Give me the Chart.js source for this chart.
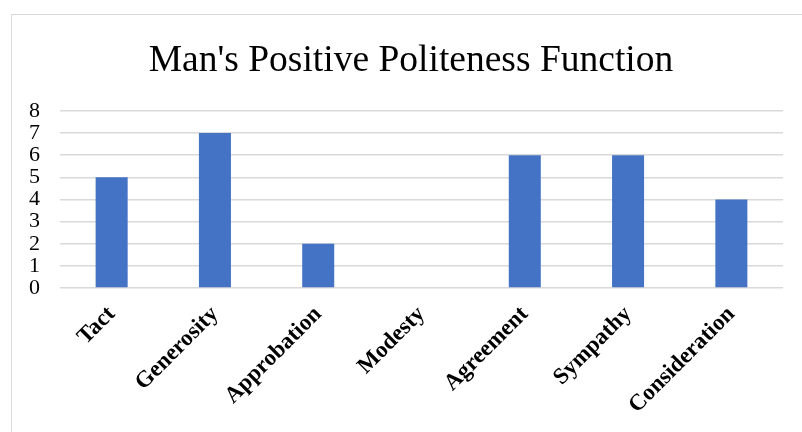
<!DOCTYPE html>
<html><head><meta charset="utf-8">
<script src="https://cdn.jsdelivr.net/npm/chart.js@4"></script>
<style>
html,body{margin:0;padding:0;background:#fff;overflow:hidden;}
#frame{position:absolute;left:11px;top:14px;width:820px;height:440px;border:1px solid #d9d9d9;box-sizing:border-box;}
#wrap{position:absolute;left:0;top:0;width:802px;height:432px;}
</style></head>
<body>
<div id="frame"></div>
<div id="wrap"><canvas id="c" width="802" height="432"></canvas></div>
<script>
const categories = ["Tact","Generosity","Approbation","Modesty","Agreement","Sympathy","Consideration"];
const values = [5,7,2,0,6,6,4];
const yTicks = [0,1,2,3,4,5,6,7,8];
const title = "Man's Positive Politeness Function";

const shiftTitle = {
  id: 'shiftTitle',
  afterLayout(chart) {
    const t = chart.titleBlock;
    if (t) { t.left += 6; t.right += 6; }
  }
};

new Chart(document.getElementById('c'), {
  type: 'bar',
  data: { labels: categories, datasets: [{ data: values, backgroundColor: '#4472C4', barPercentage: 0.62, categoryPercentage: 0.5 }] },
  options: {
    responsive: false, animation: false,
    layout: { padding: { left: 27, right: 19, top: 39, bottom: 0 } },
    plugins: {
      legend: { display: false }, tooltip: { enabled: false },
      title: { display: true, text: title, color: '#000', font: { family: 'Liberation Serif', size: 37.5, weight: 'normal' }, padding: { top: 0, bottom: 27 } }
    },
    scales: {
      x: {
        grid: { display: false, drawTicks: false },
        border: { display: false },
        ticks: { color: '#000', minRotation: 45, maxRotation: 45, autoSkip: false, padding: 13, font: { family: 'Liberation Serif', size: 23, weight: 'bold' } }
      },
      y: {
        min: 0, max: 8,
        afterBuildTicks: (axis) => { axis.ticks = yTicks.map(v => ({ value: v })); },
        afterFit: (axis) => { axis.width = 33; },
        grid: { color: '#d9d9d9', lineWidth: 1.5, drawTicks: false },
        border: { display: false },
        ticks: { color: '#000', padding: 20, autoSkip: false, stepSize: 1, font: { family: 'Liberation Serif', size: 22, lineHeight: 1 } }
      }
    }
  },
  plugins: [shiftTitle]
});
</script>
</body></html>
